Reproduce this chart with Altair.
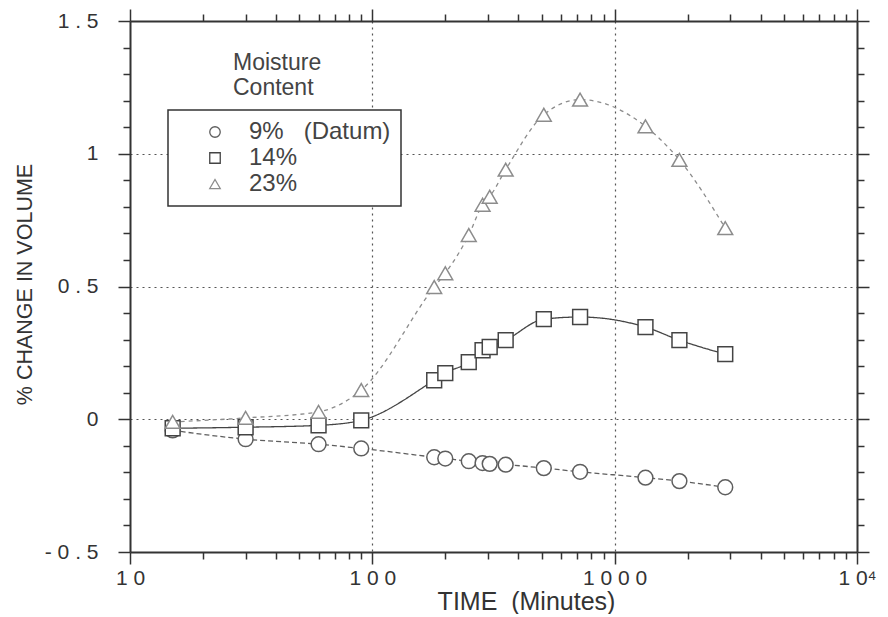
import altair as alt
import pandas as pd

# ---- data ----
times = [15, 30, 60, 90, 180, 200, 250, 285, 305, 355, 510, 720, 1340, 1850, 2860]
series_names = ["9%\u00a0\u00a0\u00a0(Datum)", "14%", "23%"]
v9 = [-0.042, -0.075, -0.094, -0.110, -0.143, -0.148, -0.158, -0.165, -0.168, -0.171,
      -0.184, -0.198, -0.220, -0.233, -0.256]
v14 = [-0.034, -0.030, -0.023, -0.004, 0.147, 0.174, 0.215, 0.260, 0.272, 0.298,
       0.377, 0.385, 0.347, 0.298, 0.245]
v23 = [-0.010, 0.005, 0.028, 0.110, 0.498, 0.550, 0.694, 0.808, 0.838, 0.940,
       1.147, 1.204, 1.103, 0.977, 0.720]

x_major = [10, 100, 1000, 10000]
x_tick_values = [m * d for d in (10, 100, 1000) for m in range(1, 10)] + [10000]
y_major = [-0.5, 0.0, 0.5, 1.0, 1.5]
y_tick_values = [k / 10 for k in range(-5, 16)]
x_labels = {10: "1 0", 100: "1 0 0", 1000: "1 0 0 0", 10000: "1 0⁴"}
y_labels = {-0.5: "- 0 . 5", 0.0: "0", 0.5: "0 . 5", 1.0: "1", 1.5: "1 . 5"}

rows = []
for name, vals in zip(series_names, [v9, v14, v23]):
    for t, v in zip(times, vals):
        rows.append({"time": t, "value": v, "series": name})
df = pd.DataFrame(rows)

FONT = "Liberation Sans"
INK = "#333333"

x_major_test = "indexof([10,100,1000,10000], datum.value) >= 0"
y_major_test = "indexof([-0.5,0,0.5,1,1.5], datum.value) >= 0"

x_label_expr = " : ".join(
    f"datum.value == {k} ? '{v}'" for k, v in x_labels.items()) + " : ''"
y_label_expr = " : ".join(
    f"datum.value == {k} ? '{v}'" for k, v in y_labels.items()) + " : ''"

x_scale = alt.Scale(type="log", domain=[10, 10000], nice=False)
y_scale = alt.Scale(domain=[-0.5, 1.5], nice=False, zero=False)

common_axis = dict(
    domainColor=INK, domainWidth=2, tickColor=INK, tickWidth=1.5,
    labelFont=FONT, labelFontSize=21, labelColor=INK, labelFlush=False,
    labelOverlap=False, titleFont=FONT, titleColor=INK, titleFontWeight="normal",
    gridColor="#555", gridDash=[2, 4], gridWidth=1.2,
)

x_axis = alt.Axis(
    values=x_tick_values, labelExpr=x_label_expr,
    tickSize={"condition": {"test": x_major_test, "value": 12}, "value": 7},
    gridOpacity={"condition": {"test": "datum.value == 100 || datum.value == 1000", "value": 1}, "value": 0},
    grid=True, labelPadding=3, title="TIME \u00a0(Minutes)", titleFontSize=25,
    titleX=396, titleY=49, titleBaseline="middle", titleAlign="center",
    **common_axis,
)
y_axis = alt.Axis(
    values=y_tick_values, labelExpr=y_label_expr,
    tickSize={"condition": {"test": y_major_test, "value": 12}, "value": 7},
    gridOpacity={"condition": {"test": "datum.value == 0 || datum.value == 0.5 || datum.value == 1", "value": 1}, "value": 0},
    grid=True, labelPadding=20, labelBaseline="middle",
    title="% CHANGE IN VOLUME", titleFontSize=21.5,
    titleX=-105, titleY=263, titleBaseline="middle", titleAlign="center", titleAngle=-90,
    **common_axis,
)
x_axis_top = alt.Axis(
    orient="top", values=x_tick_values, labels=False, title=None, grid=False,
    tickSize={"condition": {"test": x_major_test, "value": 12}, "value": 7},
    domainColor=INK, domainWidth=2, tickColor=INK, tickWidth=1.5,
)
y_axis_right = alt.Axis(
    orient="right", values=y_tick_values, labels=False, title=None, grid=False,
    tickSize={"condition": {"test": y_major_test, "value": 12}, "value": 7},
    domainColor=INK, domainWidth=2, tickColor=INK, tickWidth=1.5,
)

line_colors = ["#5e5e5e", "#444444", "#8c8c8c"]
line_dashes = [[5, 3], [1, 0], [4, 4]]
color_scale = alt.Scale(domain=series_names, range=line_colors)
shape_scale = alt.Scale(domain=series_names, range=["circle", "square", "triangle-up"])

legend = alt.Legend(
    title=None, orient="none", legendX=38, legendY=89,
    strokeColor=INK, fillColor="white", padding=10,
    symbolOffset=25, labelOffset=22, rowPadding=2,
    labelFont=FONT, labelFontSize=24, labelColor="#444",
    symbolSize=110, symbolFillColor="white", symbolStrokeWidth=1.3,
)

line_layers = []
for name, col, dash in zip(series_names, line_colors, line_dashes):
    line_layers.append(
        alt.Chart().transform_filter(alt.datum.series == name)
        .mark_line(interpolate="monotone", strokeWidth=1.3, color=col, strokeDash=dash)
    )

points = alt.Chart().mark_point(fill="white", filled=False, strokeWidth=1.5, size=220, opacity=1).encode(
    color=alt.Color("series:N", scale=color_scale, legend=legend),
    shape=alt.Shape("series:N", scale=shape_scale, legend=legend),
)

main = alt.layer(*line_layers, points, data=df).encode(
    x=alt.X("time:Q", scale=x_scale, axis=x_axis),
    y=alt.Y("value:Q", scale=y_scale, axis=y_axis),
)

mirror = alt.Chart(df).mark_point(opacity=0).encode(
    x=alt.X("time:Q", scale=x_scale, axis=x_axis_top),
    y=alt.Y("value:Q", scale=y_scale, axis=y_axis_right),
)

title_df = pd.DataFrame({"t": ["Moisture Content"]})
legend_title = alt.Chart(title_df).mark_text(
    text=["Moisture", "Content"], align="left", baseline="middle",
    font=FONT, fontSize=23, color="#444", lineHeight=25,
).encode(x=alt.value(103), y=alt.value(42))

chart = alt.layer(main, mirror, legend_title).resolve_axis(
    x="independent", y="independent"
).properties(
    width=727, height=531,
    autosize=alt.AutoSizeParams(type="none"),
    padding={"left": 122, "top": 13, "right": 23, "bottom": 62},
).configure_view(stroke=None).configure_legend(strokeWidth=1.5)

chart.save("out.html", embed_options={"renderer": "svg", "actions": False})
